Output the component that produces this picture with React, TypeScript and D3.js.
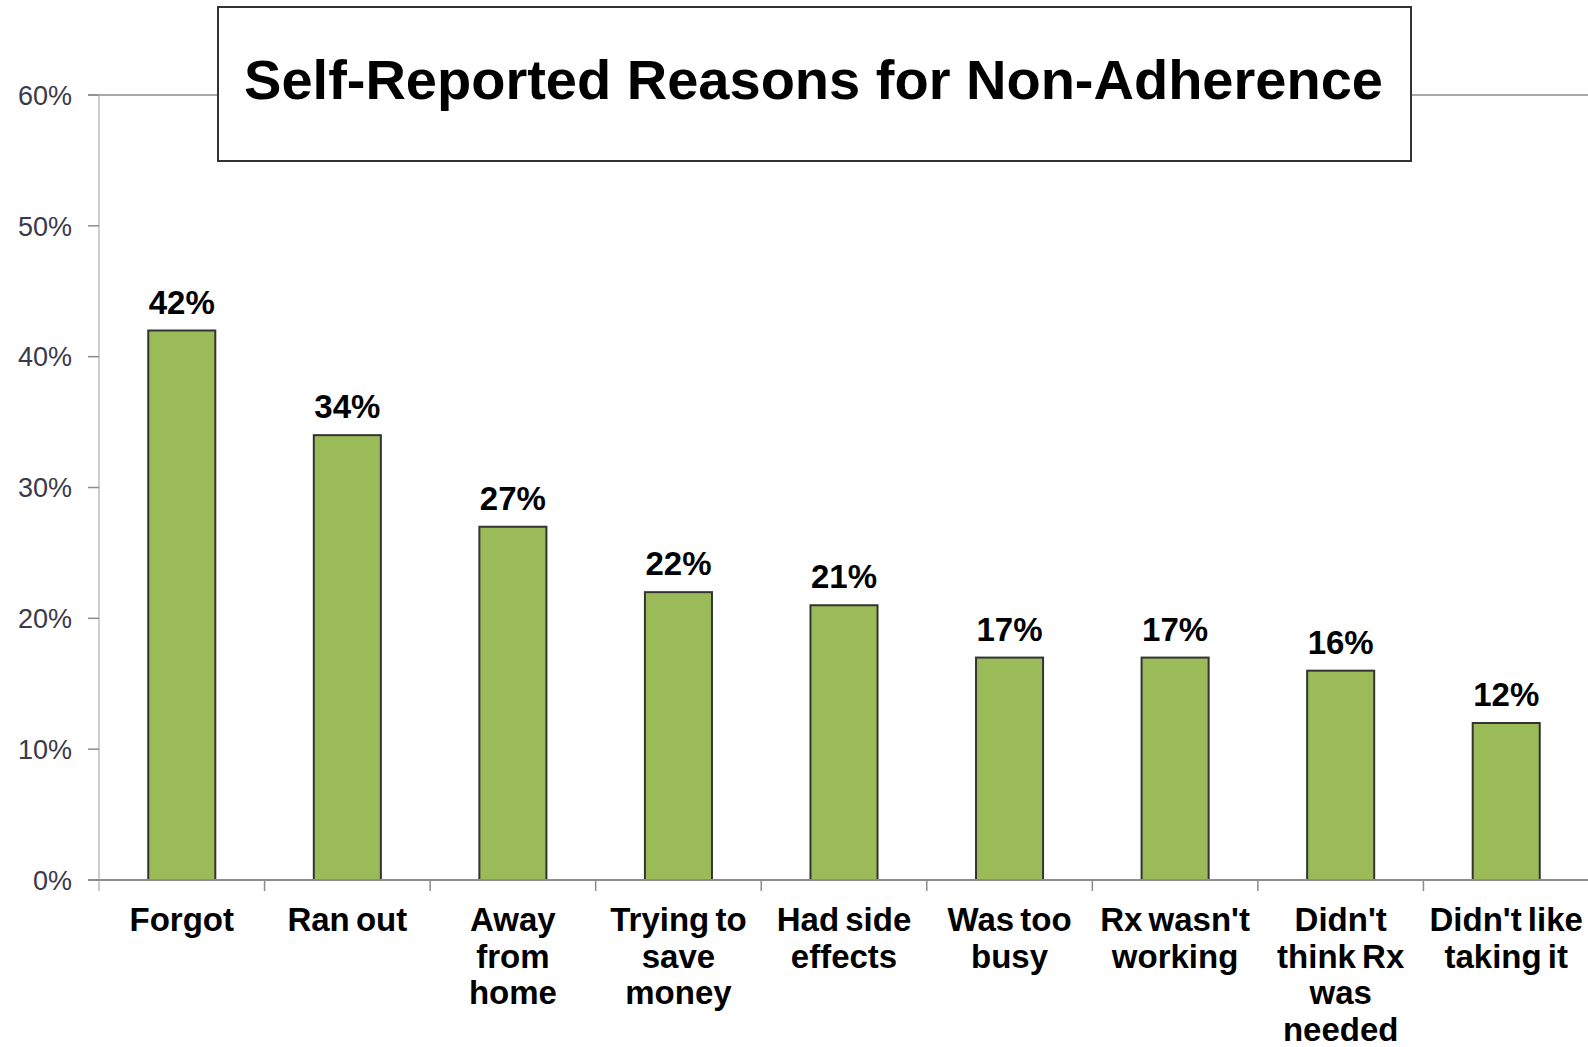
import React from "react";
import * as d3 from "d3";

const categories: string[][] = [
  ["Forgot"],
  ["Ran out"],
  ["Away", "from", "home"],
  ["Trying to", "save", "money"],
  ["Had side", "effects"],
  ["Was too", "busy"],
  ["Rx wasn't", "working"],
  ["Didn't", "think Rx", "was", "needed"],
  ["Didn't like", "taking it"],
];
const values: number[] = [42, 34, 27, 22, 21, 17, 17, 16, 12];
const yTicks: number[] = [0, 10, 20, 30, 40, 50, 60];
const title = "Self-Reported Reasons for Non-Adherence";

const W = 1588;
const H = 1047;
const FONT = "'Liberation Sans', Arial, Helvetica, sans-serif";

export default function App() {
  const keys = categories.map((c) => c.join(" "));
  const x = d3
    .scaleBand<string>()
    .domain(keys)
    .range([99, 1589])
    .paddingInner(0.595)
    .paddingOuter(0.2975);
  const y = d3.scaleLinear().domain([0, 60]).range([880, 95]);
  const step = x.step();
  const axisColor = "#8c8c8c";

  return (
    <svg
      width={W}
      height={H}
      style={{ position: "absolute", left: 0, top: 0, background: "#fff" }}
      fontFamily={FONT}
    >
      <rect x={0} y={0} width={W} height={H} fill="#fff" />
      {/* top line at 60% */}
      <line x1={88} x2={W} y1={y(60)} y2={y(60)} stroke={axisColor} strokeWidth={1.5} />
      {/* y axis */}
      <line x1={99} x2={99} y1={y(60)} y2={891} stroke="#bdbdbd" strokeWidth={1.5} />
      {yTicks.map((t) => (
        <g key={t}>
          <line x1={88} x2={99} y1={y(t)} y2={y(t)} stroke={axisColor} strokeWidth={1.5} />
          <text
            x={72}
            y={y(t)}
            dy="0.36em"
            textAnchor="end"
            fontSize={27}
            fill="#3a3a4a"
          >
            {t}%
          </text>
        </g>
      ))}
      {/* bars */}
      {values.map((v, i) => {
        const bx = x(keys[i])!;
        const bw = x.bandwidth();
        return (
          <g key={keys[i]}>
            <rect
              x={bx}
              y={y(v)}
              width={bw}
              height={y(0) - y(v)}
              fill="#9bbb59"
              stroke="#333"
              strokeWidth={2}
            />
            <text
              x={bx + bw / 2}
              y={y(v) - 17}
              textAnchor="middle"
              fontSize={33}
              fontWeight="bold"
              fill="#000"
            >
              {v}%
            </text>
          </g>
        );
      })}
      {/* x axis */}
      <line x1={88} x2={W} y1={y(0)} y2={y(0)} stroke={axisColor} strokeWidth={2} />
      {keys.map((k, i) => {
        const tx = 99 + step * (i + 1);
        return i < keys.length - 1 ? (
          <line key={"t" + k} x1={tx} x2={tx} y1={y(0)} y2={891} stroke={axisColor} strokeWidth={1.5} />
        ) : null;
      })}
      {categories.map((lines, i) => {
        const cx = x(keys[i])! + x.bandwidth() / 2;
        return (
          <text
            key={"l" + keys[i]}
            x={cx}
            y={931}
            textAnchor="middle"
            fontSize={33}
            fontWeight="bold"
            fill="#000"
            wordSpacing={-3}
          >
            {lines.map((ln, j) => (
              <tspan key={j} x={cx} y={931 + j * 36.5}>
                {ln}
              </tspan>
            ))}
          </text>
        );
      })}
      {/* title box */}
      <rect x={218} y={7} width={1193} height={154} fill="#fff" stroke="#333" strokeWidth={2} />
      <text
        x={(248 + 1379) / 2}
        y={99}
        textAnchor="middle"
        fontSize={56}
        fontWeight="bold"
        fill="#000"
      >
        {title}
      </text>
    </svg>
  );
}
